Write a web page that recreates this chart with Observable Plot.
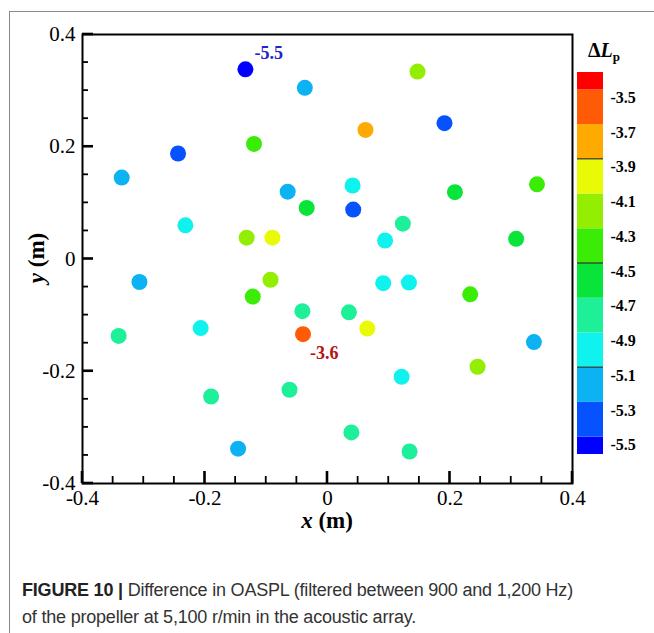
<!DOCTYPE html>
<html>
<head>
<meta charset="utf-8">
<script src="https://cdn.jsdelivr.net/npm/d3@7"></script>
<script src="https://cdn.jsdelivr.net/npm/@observablehq/plot@0.6"></script>
<style>
  html, body { margin: 0; padding: 0; background: #fff; }
  #wrap { position: relative; width: 654px; height: 633px; overflow: hidden; background: #fff; }
  #border { position: absolute; left: 9px; top: 11px; width: 700px; height: 700px; border-left: 1px solid #8a8a8a; border-top: 1px solid #8a8a8a; }
  #main, #ticks { position: absolute; left: 0; top: 0; }
  #bar { position: absolute; left: 570px; top: 40px; }
  .serif { font-family: "Liberation Serif", "Times New Roman", serif; }
  #xlabel { position: absolute; left: 0; width: 654px; top: 508px; text-align: center; font-size: 23px; font-weight: bold; color: #000; }
  #ylabel { position: absolute; left: 37px; top: 258px; transform: translate(-50%, -50%) rotate(-90deg); font-size: 23px; font-weight: bold; white-space: nowrap; color: #000; }
  #bartitle { position: absolute; left: 588px; top: 39px; font-size: 20px; font-weight: bold; color: #000; white-space: nowrap; }
  #bartitle sub { font-size: 13px; font-style: normal; vertical-align: -4px; }
  #caption { position: absolute; left: 22px; top: 577px; width: 632px; font-family: "Liberation Sans", Arial, sans-serif; font-size: 18px; line-height: 27px; color: #333; letter-spacing: -0.2px; white-space: nowrap; }
  #caption b { color: #222; }
</style>
</head>
<body>
<div id="wrap">
  <div id="border"></div>
  <div id="main"></div>
  <div id="ticks"></div>
  <div id="bar"></div>
  <div id="xlabel" class="serif"><i>x</i> (m)</div>
  <div id="ylabel" class="serif"><i>y</i> (m)</div>
  <div id="bartitle" class="serif">Δ<i>L</i><sub>p</sub></div>
  <div id="caption"><b>FIGURE 10 |</b> Difference in OASPL (filtered between 900 and 1,200 Hz)<br>of the propeller at 5,100 r/min in the acoustic array.</div>
</div>
<script>
// Microphone positions (m) and level difference ΔLp
const micX = [-0.134, -0.037, -0.120, -0.244, -0.336, -0.065, -0.034, -0.232, -0.132, -0.090,
               0.147,  0.062,  0.191,  0.041,  0.042,  0.208,  0.342,  0.123,  0.094,  0.308,
              -0.307, -0.093, -0.122, -0.041, -0.341, -0.207, -0.040, -0.062, -0.190, -0.146,
               0.091,  0.133,  0.233,  0.035,  0.065,  0.337,  0.245,  0.121,  0.039,  0.134];
const micY = [ 0.338,  0.305,  0.205,  0.188,  0.145,  0.120,  0.091,  0.060,  0.038,  0.038,
               0.334,  0.230,  0.242,  0.131,  0.088,  0.119,  0.133,  0.063,  0.033,  0.036,
              -0.041, -0.037, -0.067, -0.093, -0.137, -0.123, -0.134, -0.233, -0.245, -0.338,
              -0.043, -0.042, -0.063, -0.095, -0.124, -0.148, -0.192, -0.210, -0.309, -0.343];
const micDL = [-5.52, -5.2, -4.4, -5.4, -5.2, -5.2, -4.6, -5.0, -4.2, -4.0,
               -4.2, -3.8, -5.4, -5.0, -5.4, -4.6, -4.4, -4.8, -5.0, -4.6,
               -5.2, -4.2, -4.4, -4.8, -4.8, -5.0, -3.6, -4.8, -4.8, -5.2,
               -5.0, -5.0, -4.4, -4.8, -4.0, -5.2, -4.2, -5.0, -4.8, -4.8];

// annotated extremes (index into the arrays above)
const minIndex = 0;
const maxIndex = 26;

// contour levels and band colours (low to high)
const levels = [-5.5, -5.3, -5.1, -4.9, -4.7, -4.5, -4.3, -4.1, -3.9, -3.7, -3.5];
const bandColors = ["#0000ff", "#0652ff", "#0cb2f2", "#10f2ee", "#1ef09a", "#08e43a",
                    "#3aec06", "#94ee04", "#e8fa06", "#ffaa00", "#ff5a06", "#ff0000"];
const barRange = [-5.6, -3.4];
const barLines = [-5.1, -4.5, -3.9];

// axis ticks
const axisDomain = [-0.4, 0.4];
const majorTicks = [-0.4, -0.2, 0, 0.2, 0.4];
const minorTicks = [-0.35, -0.3, -0.25, -0.15, -0.1, -0.05, 0.05, 0.1, 0.15, 0.25, 0.3, 0.35];

// layout
const W = 654, H = 560, mL = 82, mR = 82, mT = 34, mB = 77;
const span = axisDomain[1] - axisDomain[0];
const ux = span / (W - mL - mR);   // data units per pixel, x
const uy = span / (H - mT - mB);   // data units per pixel, y
const lo = axisDomain[0];

const points = micX.map((x, i) => ({x, y: micY[i], v: micDL[i]}));
const fmt = d => d === 0 ? "0" : d.toFixed(1);
const serif = "Liberation Serif, Times New Roman, serif";

// inward tick shapes (bottom and left axes) as thin rectangles derived from the tick values
const tickSpec = [[majorTicks, 12, 11, 2.6], [minorTicks, 7, 6, 1.8]];
const tickRects = [];
for (const [vals, lenX, lenY, w] of tickSpec) {
  for (const t of vals) {
    tickRects.push({x1: t - w * ux / 2, x2: t + w * ux / 2, y1: lo, y2: lo + lenX * uy});
    tickRects.push({x1: lo, x2: lo + lenY * ux, y1: t - w * uy / 2, y2: t + w * uy / 2});
  }
}

const colorScale = {type: "threshold", domain: levels, range: bandColors};

const main = Plot.plot({
  width: W,
  height: H,
  marginLeft: mL,
  marginRight: mR,
  marginTop: mT,
  marginBottom: mB,
  style: {fontFamily: serif, background: "transparent", overflow: "visible"},
  x: {domain: axisDomain},
  y: {domain: axisDomain},
  color: colorScale,
  marks: [
    Plot.axisX(majorTicks, {anchor: "bottom", tickSize: 0, tickPadding: 7, tickFormat: fmt, fontSize: 21, label: null, fill: "#000"}),
    Plot.axisY(majorTicks, {anchor: "left", tickSize: 0, tickPadding: 7, tickFormat: fmt, fontSize: 21, label: null, fill: "#000"}),
    Plot.frame({stroke: "#000", strokeWidth: 2, fill: "none"}),
    Plot.dot(points, {x: "x", y: "y", r: 8, fill: "v", stroke: null}),
    Plot.text([points[minIndex]], {x: "x", y: "y", text: d => d.v.toFixed(1), dx: 9, dy: -16, textAnchor: "start", fill: "#2424c8", fontSize: 18, fontWeight: "bold"}),
    Plot.text([points[maxIndex]], {x: "x", y: "y", text: d => d.v.toFixed(1), dx: 7, dy: 19, textAnchor: "start", fill: "#b41414", fontSize: 18, fontWeight: "bold"})
  ]
});
document.getElementById("main").appendChild(main);

// tick overlay with identical scales
const ticks = Plot.plot({
  width: W,
  height: H,
  marginLeft: mL,
  marginRight: mR,
  marginTop: mT,
  marginBottom: mB,
  style: {background: "transparent", overflow: "visible"},
  x: {domain: axisDomain, axis: null},
  y: {domain: axisDomain, axis: null},
  marks: [
    Plot.rect(tickRects, {x1: "x1", x2: "x2", y1: "y1", y2: "y2", fill: "#000"})
  ]
});
document.getElementById("ticks").appendChild(ticks);

const edges = [barRange[0], ...levels, barRange[1]];
const bands = bandColors.map((c, i) => ({lo: edges[i], hi: edges[i + 1], c}));
const barUnitPerPx = (barRange[1] - barRange[0]) / (430 - 32 - 16);

const bar = Plot.plot({
  width: 84,
  height: 430,
  marginLeft: 7,
  marginRight: 51,
  marginTop: 32,
  marginBottom: 16,
  style: {fontFamily: serif, background: "transparent", overflow: "visible"},
  x: {domain: [0, 1], axis: null},
  y: {domain: barRange, axis: null},
  marks: [
    Plot.rect(bands, {x1: 0, x2: 1, y1: "lo", y2: "hi", fill: "c"}),
    Plot.rect(barLines, {x1: 0, x2: 1, y1: d => d - barUnitPerPx * 0.6, y2: d => d + barUnitPerPx * 0.6, fill: "#333"}),
    Plot.text(levels, {x: 1, y: d => d, text: d => d.toFixed(1), dx: 7, dy: 8, textAnchor: "start", fontSize: 16, fontWeight: "bold", fill: "#000"})
  ]
});
document.getElementById("bar").appendChild(bar);
</script>
</body>
</html>
